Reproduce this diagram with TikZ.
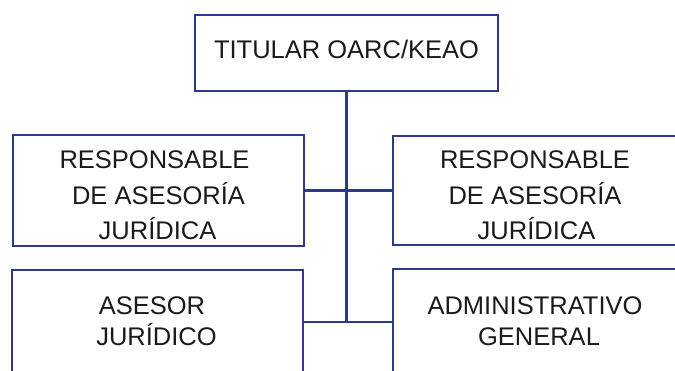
\documentclass[tikz,border=0pt]{standalone}
\usepackage{fontspec}
\setmainfont{Liberation Sans}
\definecolor{navy}{HTML}{2B3990}
\definecolor{ink}{HTML}{1A1A1A}
\begin{document}
\begin{tikzpicture}[x=1pt,y=-1pt,
  box/.style={draw=navy,line width=2.4pt,rectangle,inner sep=0pt,align=center,text=ink},
  midtext/.style={font=\fontsize{25.5}{35.3}\selectfont,text height=98pt,text depth=0pt},
  lowtext/.style={font=\fontsize{25.5}{30.5}\selectfont,text depth=0pt},
  conn/.style={draw=navy,line width=2.4pt}]
\useasboundingbox (0,0) rectangle (675,371);
\clip (0,0) rectangle (675,371);
\node[box,font=\fontsize{25.5}{30}\selectfont,text height=12pt,text depth=0pt,
  minimum width=303pt,minimum height=76pt] (top) at (346.5,53) {TITULAR OARC/KEAO};
\node[box,midtext,minimum width=291pt,minimum height=111pt] (lm) at (158.5,190.5)
  {RESPONSABLE\hspace*{8pt}\\DE ASESORÍA\hspace*{15pt}\\JURÍDICA\hspace*{2pt}};
\node[box,midtext,minimum width=284pt,minimum height=109pt] (rm) at (535,190.5)
  {RESPONSABLE\\DE ASESORÍA\hspace*{6pt}\\\hspace*{3pt}JURÍDICA};
\node[box,lowtext,text height=47pt,minimum width=291pt,minimum height=104pt] (lb) at (157.5,322)
  {ASESOR\hspace*{11pt}\\JURÍDICO\hspace*{2pt}};
\node[box,lowtext,text height=49pt,minimum width=284pt,minimum height=104pt] (rb) at (535,321)
  {ADMINISTRATIVO\\\hspace*{8pt}GENERAL};
\draw[conn] (top.south) -- (top.south |- lb.east);
\draw[conn] (lm.east) -- (lm.east -| rm.west);
\draw[conn] (lb.east) -- (lb.east -| rb.west);
\end{tikzpicture}
\end{document}
